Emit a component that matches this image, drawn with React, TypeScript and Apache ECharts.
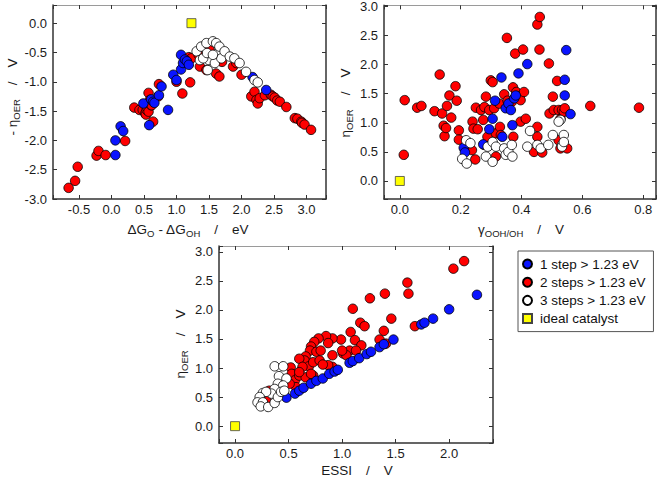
import React, { useEffect, useRef } from "react";
import * as echarts from "echarts";

// ---------- legend names ----------
const NAMES = ["1 step > 1.23 eV", "2 steps > 1.23 eV", "3 steps > 1.23 eV", "ideal catalyst"];

// ---------- panel 1: ΔGO - ΔGOH vs -η ----------
const p1Blue = [
  [0.06, -2.25], [0.06, -2.0], [0.14, -1.76], [0.18, -1.84], [0.49, -1.37], [0.58, -1.74],
  [0.61, -1.3], [0.64, -1.34], [0.66, -1.36], [0.73, -1.23], [0.77, -1.08], [0.87, -1.48],
  [0.95, -0.88], [1.0, -0.97], [1.07, -0.79], [1.1, -0.68], [1.07, -0.54], [1.13, -0.62],
  [1.16, -0.65], [1.19, -0.71], [2.17, -0.92], [2.38, -1.14],
];
const p1Red = [
  [-0.66, -2.81], [-0.56, -2.69], [-0.52, -2.45], [-0.23, -2.26], [-0.2, -2.18], [-0.09, -2.25],
  [0.21, -2.01], [0.35, -1.44], [0.43, -1.48], [0.48, -1.48], [0.52, -1.54], [0.53, -1.56],
  [0.54, -1.48], [0.55, -1.44], [0.57, -1.19], [0.57, -1.51], [0.59, -1.31], [0.61, -1.4],
  [0.62, -1.4], [0.64, -1.68], [0.72, -1.25], [0.73, -1.04], [1.0, -1.0], [1.09, -1.2],
  [1.21, -1.01], [1.15, -0.66], [1.19, -0.58], [1.23, -0.6], [1.34, -0.54], [1.36, -0.74],
  [1.46, -0.8], [1.51, -0.46], [1.61, -0.86], [1.64, -0.6], [1.66, -0.91], [1.7, -0.66],
  [1.87, -0.74], [1.92, -0.68], [2.0, -0.88], [2.15, -1.25], [2.2, -1.17], [2.23, -1.31],
  [2.25, -1.37], [2.28, -1.28], [2.36, -1.23], [2.45, -1.22], [2.48, -1.25], [2.51, -1.27],
  [2.55, -1.32], [2.59, -1.34], [2.69, -1.43], [2.82, -1.62], [2.86, -1.63], [2.92, -1.68],
  [2.93, -1.7], [2.97, -1.73], [3.07, -1.82],
];
const p1White = [
  [1.31, -0.48], [1.38, -0.4], [1.36, -0.63], [1.46, -0.34], [1.48, -0.8], [1.5, -0.63],
  [1.56, -0.31], [1.59, -0.68], [1.61, -0.34], [1.64, -0.51], [1.66, -0.4], [1.69, -0.6],
  [1.74, -0.48], [1.82, -0.57], [1.89, -0.6], [1.97, -0.68], [2.07, -0.83], [2.2, -0.97],
  [2.25, -1.01], [1.41, -0.6], [1.47, -0.51], [1.56, -0.54],
];
const p1Ideal = [[1.23, 0.0]];

// ---------- panel 2: γOOH/OH vs η ----------
const p2Blue = [
  [0.21, 0.57], [0.214, 0.49], [0.274, 0.63], [0.294, 0.89], [0.305, 1.07], [0.313, 1.38],
  [0.334, 1.78], [0.337, 0.76], [0.348, 1.25], [0.357, 1.33], [0.365, 1.22], [0.37, 0.96],
  [0.376, 1.42], [0.381, 1.47], [0.39, 1.85], [0.419, 2.01], [0.547, 2.25], [0.542, 1.74],
  [0.542, 1.47], [0.561, 1.15],
];
const p2Red = [
  [0.016, 1.39], [0.013, 0.45], [0.057, 1.26], [0.071, 1.29], [0.114, 1.2], [0.131, 1.83],
  [0.139, 1.16], [0.144, 0.95], [0.147, 0.77], [0.152, 0.91], [0.155, 1.29], [0.163, 1.47],
  [0.169, 1.09], [0.183, 1.63], [0.187, 1.38], [0.194, 0.87], [0.194, 0.71], [0.239, 1.02],
  [0.242, 0.9], [0.25, 1.26], [0.256, 0.89], [0.267, 1.22], [0.274, 1.05], [0.278, 1.27],
  [0.283, 1.45], [0.248, 0.37], [0.237, 0.53], [0.278, 0.62], [0.288, 0.76], [0.294, 1.22],
  [0.299, 1.73], [0.305, 1.7], [0.31, 1.25], [0.316, 0.82], [0.316, 0.42], [0.327, 1.33],
  [0.329, 0.93], [0.332, 0.79], [0.343, 1.49], [0.352, 2.46], [0.354, 1.38], [0.368, 1.36],
  [0.372, 1.61], [0.373, 0.76], [0.379, 2.19], [0.383, 1.53], [0.394, 1.46], [0.397, 1.39],
  [0.397, 1.02], [0.405, 2.26], [0.408, 1.53], [0.414, 1.07], [0.441, 0.5], [0.452, 2.69],
  [0.452, 0.93], [0.452, 0.76], [0.46, 2.82], [0.459, 2.26], [0.468, 0.49], [0.49, 2.02],
  [0.492, 1.16], [0.503, 1.45], [0.506, 1.22], [0.517, 1.72], [0.522, 1.22], [0.528, 1.07],
  [0.533, 1.22], [0.539, 1.19], [0.542, 1.25], [0.522, 0.7], [0.528, 0.56], [0.55, 0.56],
  [0.626, 1.29], [0.786, 1.26],
];
const p2White = [
  [0.205, 0.38], [0.22, 0.3], [0.218, 0.7], [0.232, 0.65], [0.283, 0.42], [0.289, 0.59],
  [0.305, 0.67], [0.305, 0.33], [0.316, 0.59], [0.343, 0.56], [0.348, 0.45], [0.357, 0.5],
  [0.368, 0.62], [0.37, 0.42], [0.419, 0.59], [0.428, 0.86], [0.452, 0.62], [0.463, 0.56],
  [0.488, 0.62], [0.503, 0.79], [0.528, 1.05], [0.522, 1.02], [0.533, 0.62], [0.539, 0.79],
  [0.533, 0.59], [0.539, 0.67],
];
const p2Ideal = [[0.0, 0.0]];

// ---------- panel 3: ESSI vs η ----------
const p3Blue = [
  [0.48, 0.49], [0.56, 0.56], [0.6, 0.61], [0.64, 0.66], [0.71, 0.73], [0.76, 0.78],
  [0.82, 0.82], [0.88, 0.9], [0.93, 0.94], [0.96, 0.97], [1.07, 1.09], [1.1, 1.12],
  [1.16, 1.17], [1.23, 1.24], [1.27, 1.28], [1.35, 1.36], [1.39, 1.41], [1.48, 1.49],
  [1.74, 1.75], [1.77, 1.78], [1.85, 1.85], [2.0, 2.01], [2.26, 2.26],
];
const p3Red = [
  [1.1, 2.02], [1.08, 1.62], [1.17, 1.78], [1.21, 1.72], [1.26, 2.2], [1.4, 2.28],
  [1.39, 1.64], [1.46, 1.85], [1.61, 2.47], [1.62, 2.28], [1.68, 1.72], [2.04, 2.71],
  [2.14, 2.84], [1.35, 1.49], [1.41, 1.42], [1.12, 1.48], [1.18, 1.39], [0.99, 1.49],
  [0.91, 1.51], [0.85, 1.55], [0.78, 1.51], [0.87, 1.43], [0.74, 1.45], [0.71, 1.37],
  [0.7, 1.3], [0.76, 1.28], [0.8, 1.3], [0.66, 1.2], [0.65, 1.13], [0.6, 1.16],
  [0.69, 1.03], [0.63, 1.02], [0.73, 1.1], [0.79, 1.13], [0.91, 1.22], [1.01, 1.25],
  [1.07, 1.3], [1.04, 1.22], [1.0, 1.3], [1.13, 1.3], [0.91, 1.02], [0.87, 1.05],
  [0.82, 1.06], [0.52, 1.01], [0.53, 0.9], [0.56, 0.79], [0.6, 0.87], [0.66, 0.84],
  [0.73, 0.87], [0.57, 0.67], [0.51, 0.73], [0.32, 0.61], [0.29, 0.45], [0.45, 0.56],
  [0.71, 0.9], [0.6, 0.93],
];
const p3White = [
  [0.37, 1.03], [0.45, 1.03], [0.41, 0.86], [0.48, 0.82], [0.4, 0.73], [0.45, 0.7],
  [0.37, 0.64], [0.34, 0.56], [0.26, 0.57], [0.29, 0.59], [0.23, 0.5], [0.21, 0.41],
  [0.26, 0.41], [0.24, 0.34], [0.31, 0.33], [0.37, 0.4], [0.4, 0.5], [0.43, 0.59],
  [0.46, 0.61],
];
const p3Ideal = [[0.0, 0.0]];

// ---------- styling ----------
const FONT = "'Liberation Sans', Arial, Helvetica, sans-serif";
const INK = "#1a1a1a";
const AX = "#333";
const BLUE = "#0a14ff";
const RED = "#ff0000";
const WHITE = "#ffffff";
const YELLOW = "#ffff00";

const grids = [
  { left: 53, top: 5, width: 273, height: 194 },
  { left: 384, top: 5, width: 272, height: 194 },
  { left: 219, top: 246, width: 274, height: 197 },
];

const axisSpec = [
  { x: { min: -0.9, max: 3.3, split: 8, step: 0.5 }, y: { min: -3.0, max: 0.31, split: 6, step: 0.5 } },
  { x: { min: -0.052, max: 0.842, split: 5, step: 0.2 }, y: { min: -0.31, max: 3.02, split: 6, step: 0.5 } },
  { x: { min: -0.15, max: 2.41, split: 5, step: 0.5 }, y: { min: -0.29, max: 3.1, split: 6, step: 0.5 } },
];

function fmt(step: number) {
  return (v: number) =>
    Math.abs(v / step - Math.round(v / step)) < 1e-6 ? (Math.round(v / step) * step).toFixed(1) : "";
}

function makeAxis(gridIndex: number, spec: any, position: string, main: boolean) {
  const light = position === "top";
  const vertical = position === "left" || position === "right";
  return {
    type: "value",
    gridIndex,
    position,
    min: spec.min,
    max: spec.max,
    splitNumber: spec.split,
    scale: true,
    splitLine: { show: false },
    axisLine: {
      show: true,
      onZero: false,
      lineStyle: { color: light ? "#9a9a9a" : AX, width: light ? 1 : 1.5 },
    },
    axisTick: { show: true, inside: true, length: 4, lineStyle: { color: AX, width: 1 } },
    axisLabel: {
      show: main,
      formatter: fmt(spec.step),
      color: INK,
      fontSize: 13,
      fontFamily: FONT,
      margin: vertical ? 6 : 4,
      showMinLabel: true,
      showMaxLabel: true,
    },
  };
}

const xAxes: any[] = [];
const yAxes: any[] = [];
axisSpec.forEach((s, g) => {
  xAxes.push(makeAxis(g, s.x, "bottom", true));
  xAxes.push(makeAxis(g, s.x, "top", false));
  yAxes.push(makeAxis(g, s.y, "left", true));
  yAxes.push(makeAxis(g, s.y, "right", false));
});

const panels = [
  { red: p1Red, blue: p1Blue, white: p1White, ideal: p1Ideal },
  { red: p2Red, blue: p2Blue, white: p2White, ideal: p2Ideal },
  { red: p3Red, blue: p3Blue, white: p3White, ideal: p3Ideal },
];

const series: any[] = [];
panels.forEach((p, g) => {
  const base = { type: "scatter", xAxisIndex: g * 2, yAxisIndex: g * 2, symbolSize: 9.5 };
  series.push({ ...base, name: NAMES[1], data: p.red, itemStyle: { color: RED, borderColor: "#000", borderWidth: 0.8, opacity: 1 } });
  series.push({ ...base, name: NAMES[0], data: p.blue, itemStyle: { color: BLUE, borderColor: "#000", borderWidth: 0.8, opacity: 1 } });
  series.push({ ...base, name: NAMES[2], data: p.white, itemStyle: { color: WHITE, borderColor: "#000", borderWidth: 0.8, opacity: 1 } });
  series.push({ ...base, name: NAMES[3], data: p.ideal, symbol: "rect", symbolSize: 9, itemStyle: { color: YELLOW, borderColor: "#444", borderWidth: 0.8, opacity: 1 } });
});

const rich = {
  n: { fontSize: 13.5, lineHeight: 16, fontFamily: FONT, fill: INK },
  s: { fontSize: 9.5, lineHeight: 10, padding: [8, 0, 0, 0], fontFamily: FONT, fill: INK },
};
const SP = "\u00a0\u00a0\u00a0\u2009/\u00a0\u00a0\u00a0\u2009";

function title(text: string, x: number, y: number, rotate: boolean) {
  return {
    type: "text",
    x,
    y,
    rotation: rotate ? Math.PI / 2 : 0,
    style: { text, rich, align: "center", verticalAlign: "middle", fill: INK, fontFamily: FONT, fontSize: 13.5 },
  };
}

const option: any = {
  animation: false,
  backgroundColor: "#fff",
  textStyle: { fontFamily: FONT },
  grid: grids.map((g) => ({ ...g, containLabel: false })),
  xAxis: xAxes,
  yAxis: yAxes,
  legend: {
    orient: "vertical",
    left: 518,
    top: 251,
    padding: [6, 8, 6, 4],
    itemGap: 4.2,
    itemWidth: 15,
    itemHeight: 9,
    borderColor: "#555",
    borderWidth: 1,
    borderRadius: 0,
    backgroundColor: "#fff",
    selectedMode: false,
    textStyle: { fontSize: 13.5, color: "#111", fontFamily: FONT, padding: [0, 0, 0, 0] },
    data: [
      { name: NAMES[0], icon: "circle" },
      { name: NAMES[1], icon: "circle" },
      { name: NAMES[2], icon: "circle" },
      { name: NAMES[3], icon: "path://M0,0H10V10H0Z" },
    ],
  },
  graphic: [
    title("{n|- η}{s|OER}{n|" + SP + "V}", 12, 97, true),
    title("{n|ΔG}{s|O}{n| - ΔG}{s|OH}{n|" + SP + "eV}", 188, 229, false),
    title("{n|η}{s|OER}{n|" + SP + "V}", 345, 103, true),
    title("{n|γ}{s|OOH/OH}{n|" + SP + "V}", 521, 229, false),
    title("{n|η}{s|OER}{n|" + SP + "V}", 180, 344, true),
    title("{n|ESSI" + SP + "V}", 357, 470, false),
  ],
  series,
};

export default function App() {
  const ref = useRef<HTMLDivElement>(null);
  useEffect(() => {
    const chart = echarts.init(ref.current as HTMLDivElement, null, { renderer: "svg" });
    chart.setOption(option);
    return () => chart.dispose();
  }, []);
  return (
    <div
      ref={ref}
      style={{ position: "fixed", left: 0, top: 0, width: 661, height: 478, background: "#fff" }}
    />
  );
}
